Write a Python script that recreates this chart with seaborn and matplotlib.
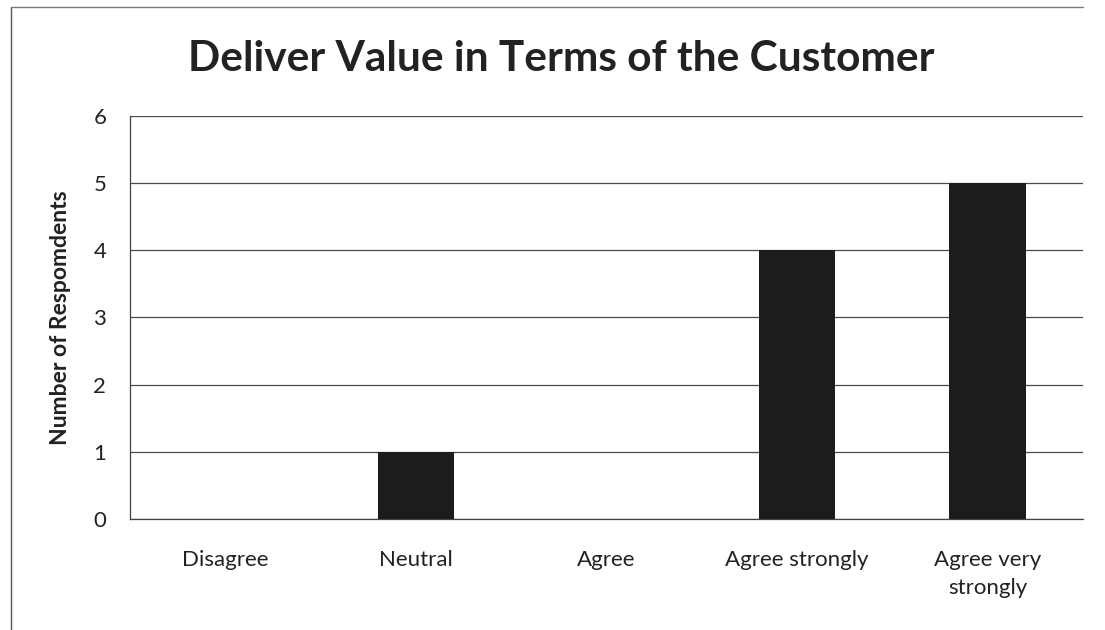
import matplotlib
matplotlib.use("Agg")
import matplotlib.pyplot as plt
import seaborn as sns
import pandas as pd
from matplotlib.lines import Line2D

categories = ["Disagree", "Neutral", "Agree", "Agree strongly", "Agree very\nstrongly"]
respondents = [0, 1, 0, 4, 5]
y_ticks = [0, 1, 2, 3, 4, 5, 6]

sns.set_style("white")
plt.rcParams["font.family"] = ["Lato", "DejaVu Sans"]

df = pd.DataFrame({"category": categories, "count": respondents})

fig = plt.figure(figsize=(11.05, 6.3), dpi=100)
ax = fig.add_axes([0.1176, 0.1762, 0.8624, 0.6397])

sns.barplot(data=df, x="category", y="count", color="#1c1c1c",
            width=0.4, saturation=1, linewidth=0, ax=ax, zorder=3)

ax.set_ylim(0, 6)
ax.set_yticks(y_ticks)
ax.set_xlim(-0.5, len(categories) - 0.5)
ax.yaxis.grid(True, color="#4a4a4a", linewidth=0.9)
ax.set_axisbelow(True)

for side in ["top", "right"]:
    ax.spines[side].set_visible(False)
ax.spines["left"].set_color("#444444")
ax.spines["bottom"].set_color("#444444")
ax.spines["left"].set_linewidth(0.9)
ax.spines["bottom"].set_linewidth(0.9)

ax.tick_params(axis="both", length=0, labelsize=16, colors="#222222")
ax.tick_params(axis="y", pad=17)
ax.tick_params(axis="x", pad=22)
plt.setp(ax.get_xticklabels(), linespacing=1.5)
ax.set_xlabel("")
ax.set_ylabel("Number of Respomdents", fontsize=16.5, fontweight="bold",
              color="#222222", labelpad=16)

fig.suptitle("Deliver Value in Terms of the Customer", x=0.508, y=0.937,
             fontsize=30.5, fontweight="bold", color="#222222")

# outer chart frame (left and top edges)
fig.add_artist(Line2D([0.010, 0.010], [0.0, 0.989], color="#555555", lw=1.0))
fig.add_artist(Line2D([0.010, 0.980], [0.989, 0.989], color="#777777", lw=1.0))

fig.savefig("out.png", dpi=100, facecolor="white")
